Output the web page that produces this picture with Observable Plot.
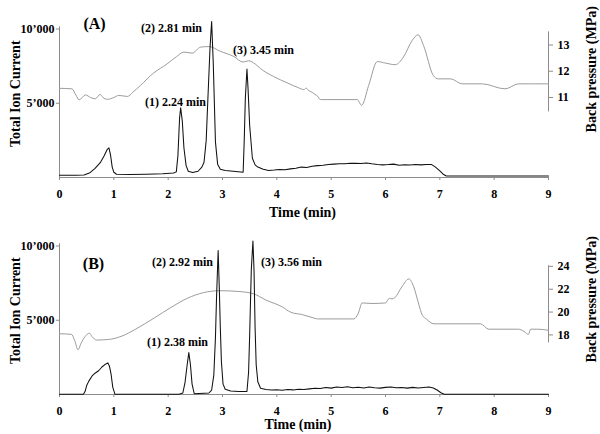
<!DOCTYPE html>
<html><head><meta charset="utf-8">
<script src="https://cdn.jsdelivr.net/npm/d3@7"></script>
<script src="https://cdn.jsdelivr.net/npm/@observablehq/plot@0.6"></script>
<style>
body{margin:0;background:#fff;}
#chart{width:600px;height:434px;overflow:hidden;}
svg{display:block}
</style></head><body><div id="chart"></div>
<script>
// ---------- data ----------
const timeTicks = [0, 1, 2, 3, 4, 5, 6, 7, 8, 9];
const ticTicks = [5000, 10000];
const ticTickLabels = ["5’000", "10’000"];
const pressTicksA = [11, 12, 13];
const pressTicksB = [18, 20, 22, 24];

const peakLabelsA = ["(A)", "(1) 2.24 min", "(2) 2.81 min", "(3) 3.45 min"];
const peakLabelsB = ["(B)", "(1) 2.38 min", "(2) 2.92 min", "(3) 3.56 min"];
const axisTitles = ["Total Ion Current", "Back pressure (MPa)", "Time (min)"];

// [time (min), total ion current]
const ticA = [[0,150],[0.3,150],[0.45,170],[0.55,300],[0.65,600],[0.75,1000],[0.82,1450],[0.88,1900],[0.91,2000],[0.94,1500],[0.97,700],[1.0,350],[1.05,220],[1.3,200],[1.6,220],[1.9,250],[2.1,300],[2.15,380],[2.18,1500],[2.21,4000],[2.23,4700],[2.26,3800],[2.29,2000],[2.33,800],[2.37,420],[2.45,330],[2.55,420],[2.62,700],[2.66,1030],[2.7,2500],[2.73,5200],[2.77,8700],[2.8,10500],[2.83,7700],[2.87,2400],[2.91,900],[2.96,550],[3.05,470],[3.2,420],[3.38,360],[3.4,2500],[3.42,5300],[3.45,7300],[3.47,6000],[3.5,3500],[3.55,1300],[3.6,850],[3.65,700],[3.75,550],[3.85,470],[3.95,500],[4.05,540],[4.15,520],[4.25,580],[4.35,620],[4.45,700],[4.55,680],[4.65,760],[4.75,800],[4.85,830],[4.95,880],[5.05,900],[5.15,920],[5.25,930],[5.35,960],[5.45,950],[5.55,940],[5.65,980],[5.75,920],[5.85,880],[5.95,850],[6.05,870],[6.15,900],[6.25,820],[6.35,860],[6.45,840],[6.55,870],[6.65,850],[6.75,880],[6.85,870],[6.92,700],[7.0,450],[7.07,200],[7.12,100],[9,100]];
const ticB = [[0,20],[0.44,20],[0.47,200],[0.5,600],[0.54,900],[0.6,1250],[0.66,1450],[0.72,1600],[0.78,1850],[0.83,2000],[0.89,2130],[0.92,1900],[0.95,1350],[0.98,500],[1.02,20],[2.2,20],[2.27,100],[2.31,800],[2.35,2000],[2.38,2820],[2.41,2000],[2.44,700],[2.48,50],[2.75,100],[2.8,300],[2.84,1300],[2.87,3800],[2.89,6500],[2.92,9700],[2.94,7300],[2.96,4500],[2.98,2200],[3.01,700],[3.05,350],[3.15,230],[3.3,200],[3.45,200],[3.48,1500],[3.5,4000],[3.53,8400],[3.56,10340],[3.58,8400],[3.6,4500],[3.62,2000],[3.65,860],[3.7,420],[3.8,330],[3.9,300],[4.0,320],[4.1,280],[4.2,340],[4.3,310],[4.4,350],[4.5,330],[4.6,380],[4.7,420],[4.8,400],[4.9,470],[5.0,430],[5.1,500],[5.2,470],[5.3,520],[5.4,450],[5.5,490],[5.6,440],[5.7,500],[5.8,460],[5.9,430],[6.0,480],[6.1,500],[6.2,450],[6.3,470],[6.4,430],[6.5,480],[6.6,440],[6.7,470],[6.8,500],[6.88,440],[6.95,300],[7.02,120],[7.08,20],[9,20]];

// [time (min), back pressure (MPa)]
const pressA = [[0,11.35],[0.23,11.33],[0.3,11.1],[0.36,10.91],[0.48,11.1],[0.57,11.0],[0.66,10.95],[0.75,11.12],[0.8,11.0],[0.88,10.93],[1.0,11.0],[1.09,11.08],[1.25,11.04],[1.35,11.2],[1.49,11.46],[1.73,11.93],[1.98,12.28],[2.15,12.55],[2.29,12.73],[2.44,12.69],[2.6,12.92],[2.75,12.94],[2.96,12.76],[3.21,12.56],[3.38,12.35],[3.48,12.4],[3.6,12.28],[3.7,12.1],[3.94,11.8],[4.2,11.55],[4.4,11.37],[4.5,11.3],[4.54,11.36],[4.58,11.27],[4.65,11.2],[4.7,11.12],[4.75,11.05],[4.8,10.92],[5.48,10.92],[5.56,10.7],[5.69,11.46],[5.85,12.37],[6.0,12.31],[6.18,12.25],[6.33,12.54],[6.49,13.17],[6.6,13.39],[6.7,12.98],[6.88,11.84],[6.97,11.71],[7.2,11.71],[7.41,11.52],[7.78,11.52],[8.2,11.33],[8.45,11.52],[9.0,11.52]];
const pressB = [[0,18.1],[0.22,18.05],[0.28,17.5],[0.34,16.7],[0.4,17.3],[0.47,17.85],[0.55,18.15],[0.6,17.85],[0.68,17.55],[0.9,17.6],[1.15,17.9],[1.4,18.5],[1.75,19.5],[2.05,20.4],[2.35,21.2],[2.65,21.7],[2.95,21.87],[3.3,21.8],[3.57,21.6],[3.8,21.05],[4.1,20.45],[4.25,20.0],[4.31,19.9],[4.45,19.8],[4.7,19.45],[4.75,19.4],[5.42,19.4],[5.5,19.9],[5.57,20.8],[5.75,20.75],[6.0,20.8],[6.07,21.2],[6.12,21.15],[6.17,21.25],[6.3,22.2],[6.43,22.9],[6.52,22.2],[6.6,20.9],[6.68,19.7],[6.75,19.4],[6.89,18.97],[7.75,18.97],[7.9,18.5],[8.45,18.5],[8.55,18.3],[8.63,18.04],[8.67,18.5],[8.8,18.5],[9.0,18.4]];

// ---------- layout ----------
const AXIS = "#8c8c8c";
const FONT = "'Liberation Serif', 'Times New Roman', serif";

function panel(o) {
  // map pressure (MPa) onto the TIC scale for the secondary axis
  const pMap = d3.scaleLinear().domain(o.pRef).range(o.tRef);
  const press = o.pressure.map(([t, p]) => ({t, v: pMap(p)}));
  const tic = o.tic.map(([t, v]) => ({t, v}));
  const ann = o.labels.map((s, i) => ({s, x: o.labelPos[i][0], y: o.labelPos[i][1], big: i === 0}));
  const title = {fontSize: 14, fontWeight: "bold", fill: "#000", textAnchor: "middle", lineAnchor: "middle"};
  return Plot.plot({
    width: 600, height: 217,
    marginLeft: 59, marginRight: 52, marginTop: 28.5, marginBottom: 40,
    x: {domain: [0, 9], label: null},
    y: {domain: [0, 10000], label: null},
    style: {fontFamily: FONT, fontWeight: "bold", fontSize: "12px", color: "#000", background: "#fff", overflow: "visible"},
    marks: [
      Plot.ruleY([0], {stroke: AXIS}),
      Plot.ruleX([0], {y1: 0, y2: 10150, stroke: AXIS}),
      Plot.ruleX([9], {y1: pMap(o.pAxis[0]), y2: pMap(o.pAxis[1]), stroke: AXIS}),
      Plot.axisX(timeTicks, {label: null, tickSize: 3, tickPadding: 9, stroke: AXIS, fill: "#000", tickFormat: d => String(d)}),
      Plot.axisY(ticTicks, {anchor: "left", label: null, tickSize: 3, tickPadding: 2, stroke: AXIS, fill: "#000",
        tickFormat: d => ticTickLabels[ticTicks.indexOf(d)]}),
      Plot.axisY(o.pTicks.map(pMap), {anchor: "right", label: null, tickSize: 4, tickPadding: 5, stroke: AXIS, fill: "#000",
        tickFormat: d => String(Math.round(pMap.invert(d)))}),
      Plot.line(press, {x: "t", y: "v", stroke: "#9c9c9c", strokeWidth: 1, curve: "monotone-x"}),
      Plot.line(tic, {x: "t", y: "v", stroke: "#111", strokeWidth: 1.05}),
      Plot.text(ann, {x: "x", y: "y", text: "s", fontSize: d => d.big ? 16 : 12, fontWeight: "bold", fill: "#000"}),
      Plot.text([axisTitles[0]], {text: d => d, frameAnchor: "left", rotate: -90, dx: -44, dy: -9.5, ...title}),
      Plot.text([axisTitles[1]], {text: d => d, frameAnchor: "right", rotate: -90, dx: 43, dy: o.rightDy, ...title}),
      Plot.text([axisTitles[2]], {text: d => d, frameAnchor: "bottom", dx: o.timeDx, dy: o.timeDy, ...title})
    ]
  });
}

const chart = document.getElementById("chart");
chart.append(panel({
  tic: ticA, pressure: pressA, labels: peakLabelsA,
  labelPos: [[0.644, 10370], [2.135, 5050], [2.06, 10030], [3.755, 8550]],
  pRef: [11, 13], tRef: [5387, 8923], pAxis: [10.45, 13.5], pTicks: pressTicksA,
  rightDy: -34, timeDx: -1.5, timeDy: 35
}));
chart.append(panel({
  tic: ticB, pressure: pressB, labels: peakLabelsB,
  labelPos: [[0.626, 8820], [2.17, 3500], [2.264, 8890], [4.27, 8890]],
  pRef: [18, 24], tRef: [4013, 8629], pAxis: [17.3, 24.05], pTicks: pressTicksB,
  rightDy: -21, timeDx: -6, timeDy: 30.5
}));
</script>
</body></html>
